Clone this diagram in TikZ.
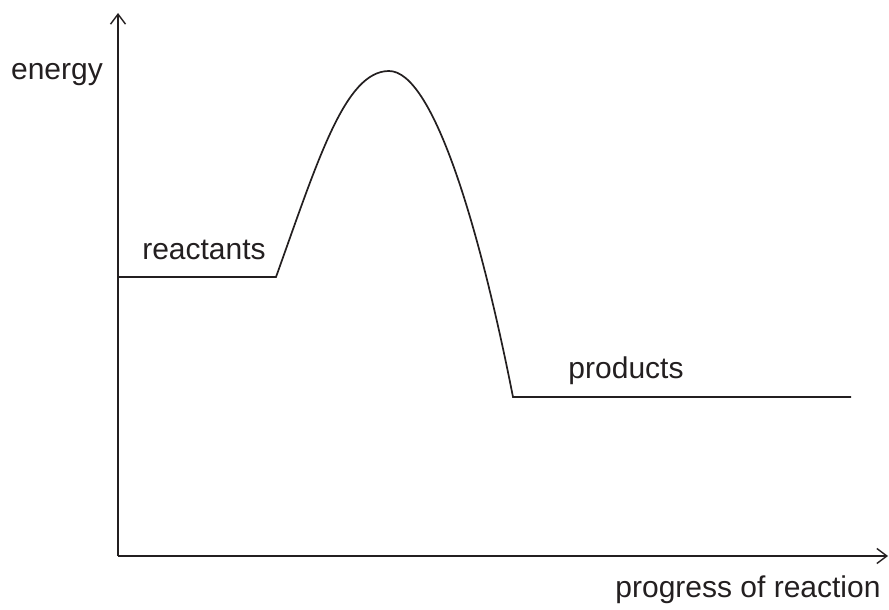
\documentclass[tikz,border=0pt]{standalone}
\usepackage{fontspec}
\setmainfont{Liberation Sans}
\usetikzlibrary{arrows.meta}
\definecolor{ink}{RGB}{35,31,32}
\tikzset{
  axis/.style={draw=ink, line width=1.8pt, -{Straight Barb[length=10pt,width=15pt,line width=1.4pt]}},
  curveline/.style={draw=ink, line width=1.7pt},
  lbl/.style={text=ink, font=\fontsize{30}{34}\selectfont, inner sep=0pt, anchor=base}
}
\begin{document}
\begin{tikzpicture}[x=1pt,y=-1pt]
\useasboundingbox (0,0) rectangle (889,610);
\coordinate (o) at (118,556);
\coordinate (ytop) at (118,13);
\coordinate (xend) at (888,556);
\coordinate (r0) at (118,277);
\coordinate (r1) at (276,277);
\coordinate (pk) at (389,71);
\coordinate (p0) at (513,397);
\coordinate (p1) at (851,397);
\draw[axis] (o) -- (ytop);
\draw[axis] (o) -- (xend);
\draw[curveline] (r0) -- (r1) .. controls (318,160) and (345,71) .. (pk)
  .. controls (432,71) and (478,220) .. (p0) -- (p1);
\node[lbl] (energy) at (57,79) {energy};
\node[lbl] (react) at (204,259) {reactants};
\node[lbl] (prod) at (626,378) {products};
\node[lbl] (prog) at (748,597) {progress of reaction};
\end{tikzpicture}
\end{document}
